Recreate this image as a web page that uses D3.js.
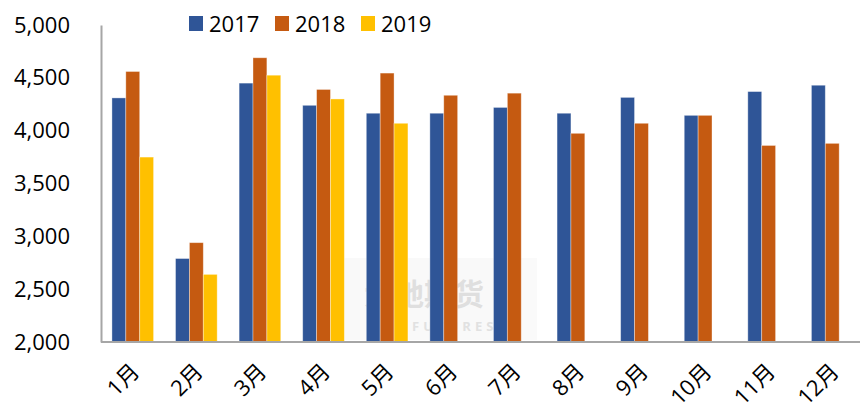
<!DOCTYPE html>
<html lang="zh">
  <head>
    <meta charset="UTF-8" />
    <title>月度柱状图</title>
    <script src="https://cdnjs.cloudflare.com/ajax/libs/d3/7.8.5/d3.min.js"></script>
    <style>
      body { margin: 0; background: #fff; }
      text { font-family: 'Open Sans', 'Noto Sans CJK SC', sans-serif; fill: #000; }
    </style>
  </head>
  <body>
    <svg width="860" height="414"></svg>

    <script>
      // 数据
      const months = ['1月', '2月', '3月', '4月', '5月', '6月', '7月', '8月', '9月', '10月', '11月', '12月']
      const seriesNames = ['2017', '2018', '2019']
      const values2017 = [4310, 2790, 4450, 4240, 4165, 4165, 4220, 4165, 4315, 4145, 4370, 4430]
      const values2018 = [4560, 2940, 4690, 4390, 4545, 4335, 4355, 3975, 4070, 4145, 3860, 3880]
      const values2019 = [3750, 2640, 4525, 4300, 4070, null, null, null, null, null, null, null]
      const yTicks = [2000, 2500, 3000, 3500, 4000, 4500, 5000]
      const colors = ['#2F5597', '#C55A11', '#FFC000']

      const svg = d3.select('svg')
      const margin = { left: 101, top: 25, right: -4, bottom: 72 }
      const width = +svg.attr('width')
      const height = +svg.attr('height')

      const x = d3.scaleBand()
        .domain(months)
        .range([margin.left, width - margin.right])
        .paddingInner(0.345)
        .paddingOuter(0.172)

      const x1 = d3.scaleBand().domain(seriesNames).range([0, x.bandwidth()])

      const y = d3.scaleLinear().domain([2000, 5000]).range([height - margin.bottom, margin.top])

      // 水印
      const wm = svg.append('g').attr('opacity', 0.9)
      wm.append('rect').attr('x', 332).attr('y', 258).attr('width', 205).attr('height', 82).attr('fill', '#f9f9f9')
      wm.append('text').attr('x', 364).attr('y', 305).text('大地期货')
        .style('font-family', 'Noto Sans CJK SC').style('font-size', '30px').style('font-weight', 'bold').style('fill', '#dcdcdc')
      wm.append('text').attr('x', 412).attr('y', 331).text('FUTURES')
        .style('font-size', '13px').style('font-weight', 'bold').style('letter-spacing', '4px').style('fill', '#dedede')

      // 柱子
      const rows = months.map((m, i) => ({ month: m, vals: [values2017[i], values2018[i], values2019[i]] }))
      svg.append('g')
        .selectAll('g')
        .data(rows)
        .join('g')
        .attr('transform', (d) => `translate(${x(d.month)},0)`)
        .selectAll('rect')
        .data((d) => d.vals.map((v, k) => ({ v, k })).filter((e) => e.v != null))
        .join('rect')
        .attr('x', (d) => x1(seriesNames[d.k]))
        .attr('width', x1.bandwidth())
        .attr('y', (d) => y(d.v))
        .attr('height', (d) => y(2000) - y(d.v))
        .attr('fill', (d) => colors[d.k])
        .attr('stroke', 'rgba(255,255,255,0.45)')
        .attr('stroke-width', 0.8)

      // y 轴
      const yAxis = svg.append('g')
        .attr('transform', `translate(${margin.left},0)`)
        .call(d3.axisLeft(y).tickValues(yTicks).tickSize(0).tickPadding(31).tickFormat(d3.format(',')))
      yAxis.select('.domain').attr('stroke', '#a6a6a6').attr('stroke-width', 2)
      yAxis.selectAll('text').style('font-size', '22px').style('font-family', 'Open Sans')

      // x 轴
      const xAxis = svg.append('g')
        .attr('transform', `translate(0,${height - margin.bottom})`)
        .call(d3.axisBottom(x).tickSize(0).tickSizeOuter(0))
      xAxis.select('.domain').attr('stroke', '#a6a6a6').attr('stroke-width', 2)
        .attr('d', `M${margin.left},0H${width}`)
      xAxis.selectAll('text')
        .style('font-size', '22px')
        .style('font-family', "'Open Sans', 'Noto Sans CJK SC'")
        .attr('text-anchor', 'end')
        .attr('dy', 0)
        .attr('y', 0)
        .attr('transform', 'translate(8,31) rotate(-45)')

      // 图例
      const legend = svg.append('g').attr('transform', 'translate(189,16)')
      seriesNames.forEach((s, i) => {
        const g = legend.append('g').attr('transform', `translate(${i * 86},0)`)
        g.append('rect').attr('width', 14).attr('height', 15).attr('fill', colors[i])
        g.append('text').attr('x', 20).attr('y', 15.5).text(s).style('font-size', '22px')
      })
    </script>
  </body>
</html>
